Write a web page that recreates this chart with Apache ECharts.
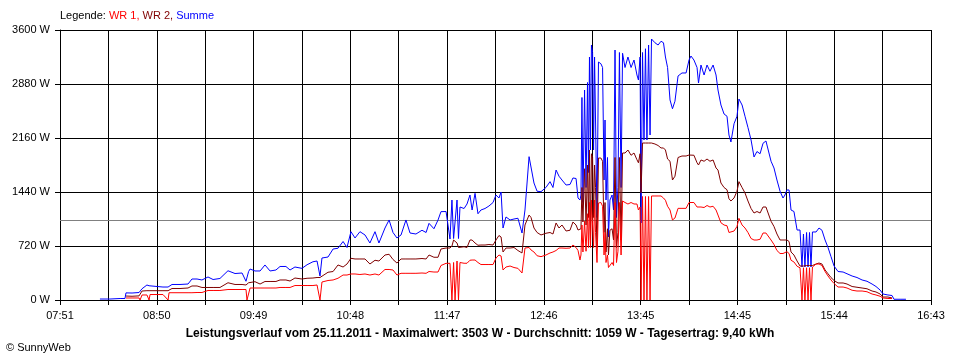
<!DOCTYPE html>
<html><head><meta charset="utf-8">
<script src="https://cdn.jsdelivr.net/npm/echarts@6/dist/echarts.min.js"></script>
<style>html,body{margin:0;padding:0;background:#fff}#c{width:960px;height:360px}</style>
</head><body><div id="c"></div>
<script>
// time axis: 07:51 .. 16:43 (532 minutes)
const spanMinutes = 532;
const xTickLabels = ['07:51','08:50','09:49','10:48','11:47','12:46','13:45','14:45','15:44','16:43'];
const yMax = 3600, yStep = 720;
const averageW = 1059;
const titleText = 'Leistungsverlauf vom 25.11.2011 - Maximalwert: 3503 W - Durchschnitt: 1059 W - Tagesertrag: 9,40 kWh';

// minutes after 07:51
const minutesAfterStart = [
24.4,30.5,36.7,39.7,40.3,44.0,48.3,48.9,50.1,53.1,54.4,55.0,59.3,62.9,66.0,66.6,68.4,73.3,78.2,80.6,
83.7,86.7,90.4,93.5,97.7,102.6,106.9,111.2,113.6,114.2,115.2,116.1,119.1,122.2,125.2,128.3,131.9,134.4,138.0,140.5,
143.5,147.8,150.9,154.5,157.0,158.8,160.0,163.7,166.8,169.8,172.9,175.3,177.7,180.2,183.2,186.3,189.3,192.4,194.8,198.5,
201.0,203.4,205.8,208.3,211.3,213.8,217.4,221.1,223.6,225.4,228.4,230.9,232.7,235.8,238.2,239.4,240.4,241.3,242.5,243.4,
244.3,246.8,248.6,250.4,251.7,253.5,255.3,257.1,259.6,262.0,264.5,266.3,268.1,269.4,270.6,272.4,274.9,277.3,279.7,282.2,
284.0,286.5,287.7,289.5,291.4,293.8,296.8,299.3,301.1,303.0,304.8,306.6,309.1,311.5,313.3,315.2,316.4,317.6,318.2,318.8,
319.4,320.4,321.3,322.2,322.8,323.4,324.0,324.6,325.3,325.9,326.5,327.1,328.0,328.9,330.4,331.4,332.3,332.9,333.5,334.4,
335.0,335.9,337.2,338.1,339.0,339.9,340.8,341.7,342.7,343.6,345.1,346.9,348.8,350.6,352.4,353.3,354.3,354.9,355.8,356.7,
357.6,358.5,359.5,360.4,361.3,362.2,363.4,365.3,367.1,368.6,369.8,371.1,372.6,374.1,375.6,377.5,379.9,382.4,384.2,385.4,
387.2,389.1,390.0,391.5,393.4,395.2,397.0,398.9,400.7,401.9,403.7,405.6,407.4,408.6,409.8,411.7,413.5,414.7,416.6,418.4,
420.2,422.1,423.9,425.7,427.6,429.4,431.2,432.4,434.3,436.1,437.9,439.8,441.6,442.8,444.0,445.3,446.5,448.3,450.2,452.0,
453.2,454.1,455.0,456.0,456.9,457.8,458.7,459.6,461.8,463.6,465.4,467.3,469.1,470.9,472.8,475.2,478.3,480.7,483.8,486.8,
489.9,492.9,496.0,498.4,500.9,502.7,505.7,508.2,509.4,513.1,516.7
];

const summe = [
13,13,20,20,95,93,100,100,150,200,190,180,180,173,173,190,207,207,213,280,
280,267,307,273,287,390,353,360,250,250,380,413,387,387,467,387,400,447,447,400,
440,422,470,510,520,320,560,573,680,690,780,700,911,827,911,867,760,911,760,960,
1067,900,827,867,1067,893,880,930,900,1022,950,1067,1178,1180,813,1333,820,820,1333,820,
1240,1220,1280,1400,1200,1422,1150,1200,1220,1253,1300,1400,1360,1440,960,1107,1067,1080,1090,893,
1200,1911,1911,1560,1450,1444,1500,1578,1500,1733,1650,1600,1533,1540,1627,1620,1360,1333,1400,2700,
1300,2800,1500,2900,1700,3240,2000,3400,3300,2000,3240,2400,1100,3173,3150,3100,1600,2400,1333,1900,
840,1333,1400,1200,3333,1100,1500,3300,1500,3290,3100,3240,3100,3200,3000,2933,3240,1027,3300,2133,
3350,2133,3400,2200,3480,3503,3430,3400,3450,3430,3240,3100,2667,2550,2650,2987,3027,3027,3200,3253,
3200,3100,2893,3133,3000,3133,3050,3133,3000,2800,2600,2480,2450,2200,2107,2350,2450,2680,2600,2450,
2300,2133,1907,1980,1950,2090,2120,2120,1850,1760,1600,1450,1360,1400,1467,1467,1200,1180,933,933,
440,880,440,900,440,900,440,907,907,960,930,800,700,580,453,380,373,350,320,300,
267,250,213,180,133,80,67,60,10,10,10
];

const wr2 = [
null,null,null,null,53,50,55,55,120,124,124,124,124,124,124,140,153,153,160,187,
187,167,167,167,167,230,207,207,200,207,230,244,244,213,247,247,247,267,267,253,
293,280,290,293,300,300,320,370,380,467,440,480,556,547,547,547,480,530,520,600,
610,540,493,547,547,547,547,553,547,600,570,570,680,693,693,720,800,800,760,700,
720,710,700,800,800,760,730,733,733,740,733,800,860,840,640,693,693,700,660,627,
1000,1133,1100,960,900,867,890,900,880,1027,960,1000,920,930,1040,1000,933,933,950,1500,
1040,1750,1000,1800,1100,2000,800,1950,1900,1100,1800,1500,700,1893,1893,1850,900,1300,640,950,
600,930,950,800,1900,700,900,1900,800,1960,1960,2000,1930,1960,1870,1830,1950,1430,2093,2093,
2093,2080,2093,2093,2093,2093,2080,2060,2027,2027,2000,1880,1850,1600,1650,1900,1920,1920,1933,1950,
1930,1830,1800,1867,1850,1880,1850,1867,1760,1733,1560,1500,1470,1350,1320,1360,1450,1578,1500,1427,
1320,1220,1160,1180,1160,1240,1240,1240,1050,980,880,800,800,787,800,780,640,600,520,453,
453,453,453,460,460,460,460,460,480,493,480,400,350,300,260,227,227,213,180,170,
160,150,120,107,80,40,40,27,null,null,null
];

const wr1 = [
null,null,null,null,27,27,27,0,67,67,0,73,73,73,0,97,97,97,97,97,
100,100,127,127,127,140,140,140,140,0,0,160,160,160,160,160,160,167,167,167,
193,193,193,193,200,0,240,260,267,290,333,333,347,347,340,347,333,347,333,407,
407,400,333,356,356,356,356,360,356,380,373,373,460,489,489,0,500,0,520,0,
500,490,490,530,533,533,500,473,473,473,473,560,600,587,400,440,453,433,422,360,
693,700,667,640,590,578,600,627,640,660,693,693,690,693,733,700,660,533,600,1000,
640,1050,650,1150,700,1300,700,1333,1333,700,1333,900,500,1293,1300,1250,600,900,500,600,
433,450,500,460,1300,500,650,1300,600,1320,1300,1280,1300,1280,1280,1200,1240,0,1380,0,
1380,0,1380,0,1387,1387,1387,1387,1387,1360,1330,1250,1200,1067,1093,1222,1222,1222,1300,1307,
1300,1240,1230,1240,1233,1260,1240,1250,1200,1133,1030,1000,990,900,880,920,980,1089,1000,960,
900,820,800,800,810,893,893,880,800,740,660,620,620,640,644,620,530,507,450,430,
0,430,0,430,0,430,0,440,480,480,460,380,320,267,220,173,173,160,130,120,
120,110,80,67,50,27,20,20,null,null,null
];

const FONT = '"Liberation Sans", Arial, sans-serif';
const cell = spanMinutes / 18;
const labelStep = spanMinutes / 9;
function pairs(vals) { return minutesAfterStart.map((t, i) => [t, vals[i]]); }
function lineSeries(name, color, vals, extra) {
  return Object.assign({
    name, type: 'line', data: pairs(vals), showSymbol: false, symbol: 'none',
    connectNulls: false, smooth: false, silent: true,
    lineStyle: { color, width: 1 }, itemStyle: { color },
    emphasis: { disabled: true }
  }, extra || {});
}
const richBase = { fontSize: 11, fontWeight: 'normal', fontFamily: FONT };

const chart = echarts.init(document.getElementById('c'), null, { renderer: 'canvas' });
chart.setOption({
  animation: false,
  backgroundColor: '#ffffff',
  grid: { left: 60, right: 29, top: 30, bottom: 60, containLabel: false },
  title: [
    { text: '{k|Legende: }{a|WR 1, }{b|WR 2, }{c|Summe}', left: 60, top: 10, padding: 0,
      textStyle: { fontWeight: 'normal', fontSize: 11, fontFamily: FONT, rich: {
        k: Object.assign({ color: '#000000' }, richBase),
        a: Object.assign({ color: '#ff0000' }, richBase),
        b: Object.assign({ color: '#800000' }, richBase),
        c: Object.assign({ color: '#0000ff' }, richBase) } } },
    { text: titleText, left: 'center', top: 328, padding: 0,
      textStyle: { fontSize: 12, fontWeight: 'bold', color: '#000', fontFamily: FONT } },
    { text: '© SunnyWeb', left: 6, top: 342, padding: 0,
      textStyle: { fontSize: 11, fontWeight: 'normal', color: '#000', fontFamily: FONT } }
  ],
  xAxis: {
    type: 'value', min: 0, max: spanMinutes, interval: cell,
    axisLine: { show: true, onZero: false, lineStyle: { color: '#000', width: 1 } },
    axisTick: { show: true, length: 5, lineStyle: { color: '#000', width: 1 } },
    splitLine: { show: true, lineStyle: { color: '#000', width: 1 } },
    axisLabel: {
      margin: 10, color: '#000', fontSize: 11, fontFamily: FONT,
      showMinLabel: true, showMaxLabel: true, hideOverlap: false,
      formatter: v => {
        const k = v / labelStep, r = Math.round(k);
        return Math.abs(k - r) < 0.01 ? xTickLabels[r] : '';
      }
    }
  },
  yAxis: {
    type: 'value', min: 0, max: yMax, interval: yStep,
    axisLine: { show: true, lineStyle: { color: '#000', width: 1 } },
    axisTick: { show: true, length: 5, lineStyle: { color: '#000', width: 1 } },
    splitLine: { show: true, lineStyle: { color: '#000', width: 1 } },
    axisLabel: { margin: 10, color: '#000', fontSize: 11, fontFamily: FONT, formatter: v => v + ' W' }
  },
  series: [
    lineSeries('Summe', '#0000ff', summe, {
      markLine: { silent: true, symbol: 'none', z: 1, label: { show: false },
        lineStyle: { color: '#808080', type: 'solid', width: 1 },
        emphasis: { disabled: true },
        data: [{ yAxis: averageW }] }
    }),
    lineSeries('WR 2', '#800000', wr2),
    lineSeries('WR 1', '#ff0000', wr1)
  ]
});
</script></body></html>
